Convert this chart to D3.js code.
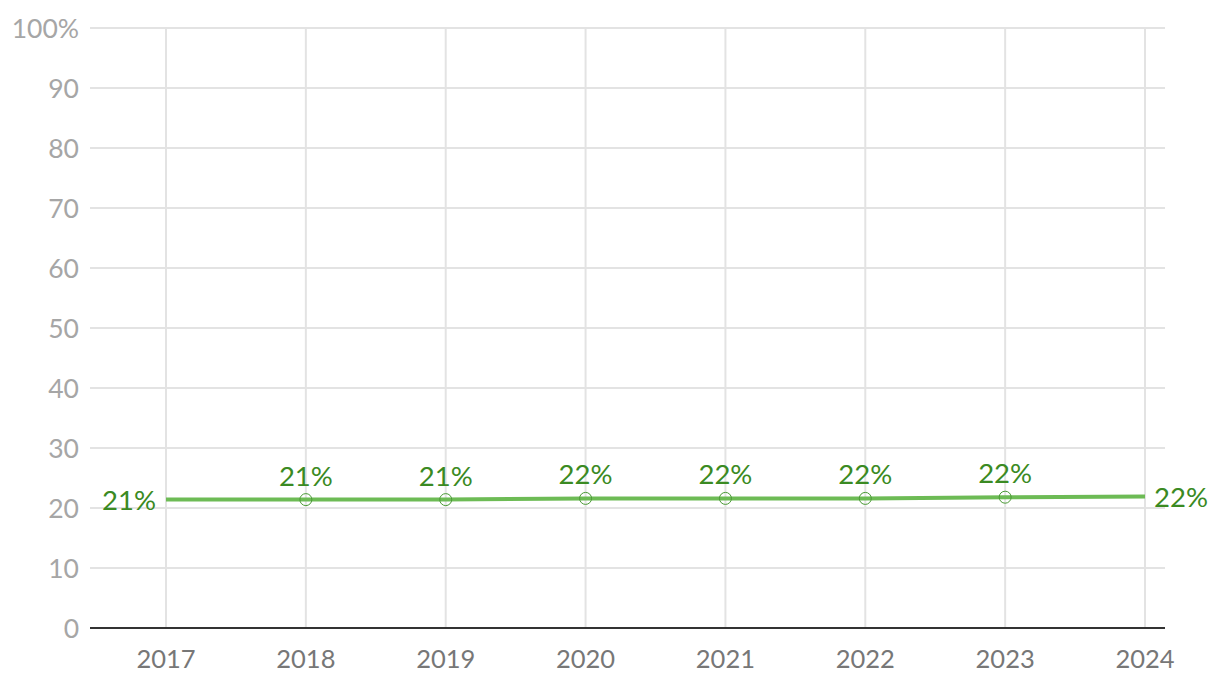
<!DOCTYPE html>
<html><head><meta charset="utf-8">
<script src="https://cdn.jsdelivr.net/npm/d3@7"></script>
<style>body{margin:0;background:#fff;} text{font-family:"Source Sans Pro","Lato","Noto Sans",sans-serif;}</style>
</head><body>
<svg id="c" width="1220" height="692"></svg>
<script>
const years = ["2017","2018","2019","2020","2021","2022","2023","2024"];
const values = [21.4, 21.4, 21.4, 21.6, 21.6, 21.6, 21.8, 21.9];
const yTicks = [0,10,20,30,40,50,60,70,80,90,100];

(function(){
const svg = d3.select("#c");
const mLeft = 90, mRight = 1165, mTop = 28, mBottom = 628;
const x = d3.scalePoint().domain(years).range([166, 1145]);
const y = d3.scaleLinear().domain([0,100]).range([mBottom, mTop]);

svg.append("g").selectAll("line").data(yTicks.filter(d=>d>0)).join("line")
  .attr("x1", mLeft).attr("x2", mRight).attr("y1", d=>y(d)).attr("y2", d=>y(d))
  .attr("stroke", "#e3e3e3").attr("stroke-width", 2);
svg.append("g").selectAll("line").data(years).join("line")
  .attr("x1", d=>x(d)).attr("x2", d=>x(d)).attr("y1", mTop).attr("y2", mBottom)
  .attr("stroke", "#e3e3e3").attr("stroke-width", 2);
svg.append("g").selectAll("text").data(yTicks).join("text")
  .attr("x", 79).attr("y", d=>y(d)).attr("dy", "0.36em").attr("text-anchor", "end")
  .attr("font-size", 26.5).attr("fill", "#a6a6a6")
  .text(d => d === 100 ? "100%" : d);
svg.append("line").attr("x1", mLeft).attr("x2", mRight).attr("y1", mBottom).attr("y2", mBottom)
  .attr("stroke", "#333").attr("stroke-width", 2);
svg.append("g").selectAll("text").data(years).join("text")
  .attr("x", d=>x(d)).attr("y", 668).attr("text-anchor", "middle")
  .attr("font-size", 25.5).attr("fill", "#777")
  .text(d=>d);

const data = years.map((yr,i)=>({yr, v: values[i], i}));
svg.append("path").datum(data)
  .attr("d", d3.line().x(d=>x(d.yr)).y(d=>y(d.v)))
  .attr("fill", "none").attr("stroke", "#6dbb55").attr("stroke-width", 4);

svg.append("g").selectAll("circle").data(data.filter(d=>d.i>0 && d.i<years.length-1)).join("circle")
  .attr("cx", d=>x(d.yr)).attr("cy", d=>y(d.v)).attr("r", 6)
  .attr("fill", "none").attr("stroke", "#4a9a35").attr("stroke-width", 1);

const last = years.length-1;
svg.append("g").selectAll("text").data(data).join("text")
  .attr("x", d => d.i===0 ? x(d.yr)-10 : d.i===last ? x(d.yr)+9 : x(d.yr))
  .attr("y", d => (d.i===0 || d.i===last) ? y(d.v) : y(d.v)-14)
  .attr("dy", d => (d.i===0 || d.i===last) ? "0.36em" : 0)
  .attr("text-anchor", d => d.i===0 ? "end" : d.i===last ? "start" : "middle")
  .attr("font-size", 27.5).attr("fill", "#3a8a22")
  .text(d => Math.round(d.v) + "%");
})();
</script>
</body></html>
